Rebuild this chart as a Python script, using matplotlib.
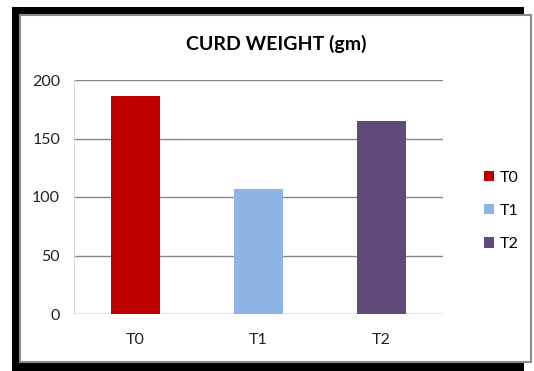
import matplotlib.pyplot as plt
from matplotlib.patches import Rectangle, Patch

plt.rcParams['font.family'] = ['Lato', 'DejaVu Sans']

treatments = ['T0', 'T1', 'T2']
curd_weight = [186, 107, 165]
colors = ['#C00000', '#8DB4E2', '#604A7B']

W, H = 534, 371
fig = plt.figure(figsize=(W / 100, H / 100), dpi=100)

# dark shadow frame and the white chart area on top of it
fig.patches.append(Rectangle((12 / W, 0), (524 - 12) / W, 1 - 7 / H,
                             transform=fig.transFigure, facecolor='black',
                             edgecolor='none', zorder=0))
fig.patches.append(Rectangle((20 / W, (H - 362) / H), (531 - 20) / W, (362 - 15) / H,
                             transform=fig.transFigure, facecolor='white',
                             edgecolor='#8C8C8C', linewidth=1.5, zorder=1))

ax = fig.add_axes([74 / W, (H - 314) / H, (443 - 74) / W, (314 - 80) / H])
ax.set_zorder(2)
ax.patch.set_alpha(0)

x = range(len(treatments))
ax.bar(x, curd_weight, width=0.4, color=colors, zorder=3)

ax.set_xlim(-0.5, 2.5)
ax.set_ylim(0, 200)
ax.set_yticks([0, 50, 100, 150, 200])
ax.set_xticks(list(x))
ax.set_xticklabels(treatments)
ax.yaxis.grid(True, color='#868686', linewidth=1)
ax.set_axisbelow(True)
for s in ['top', 'right', 'bottom']:
    ax.spines[s].set_visible(False)
ax.spines['left'].set_color('#D9D9D9')
ax.tick_params(axis='both', length=0, labelsize=11.5, colors='#222222')
ax.tick_params(axis='x', pad=14)
ax.tick_params(axis='y', pad=10)

fig.text(276 / W, 1 - 44 / H, 'CURD WEIGHT (gm)', ha='center', va='center',
         fontsize=14, fontweight='bold', color='black', zorder=5)

handles = [Patch(facecolor=c, edgecolor='none') for c in colors]
leg = fig.legend(handles, treatments, loc='center left',
                 bbox_to_anchor=(476 / W, 1 - 211 / H), frameon=False,
                 fontsize=11.5, handlelength=0.6, handleheight=0.6,
                 handletextpad=0.4, labelspacing=1.2, borderpad=0)
leg.set_zorder(5)

plt.savefig('out.png', dpi=100)
